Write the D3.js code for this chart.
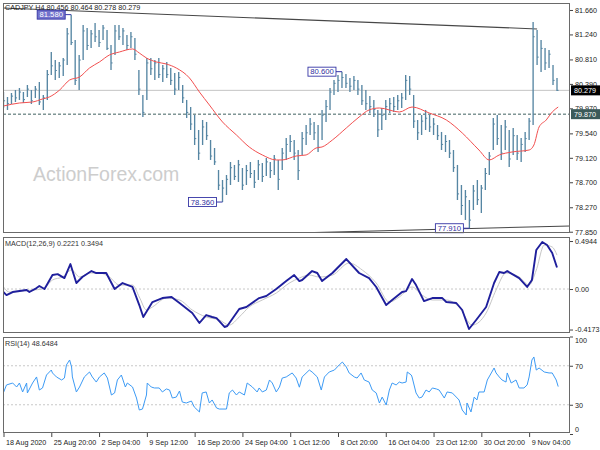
<!DOCTYPE html>
<html><head><meta charset="utf-8">
<script src="https://cdn.jsdelivr.net/npm/d3@7"></script>
<style>body{margin:0;background:#fff}svg{display:block}text{font-family:"Liberation Sans",Arial,sans-serif}</style>
</head><body><svg id="c" width="600" height="450"></svg>
<script>
// ---------- DATA ----------
const title = "CADJPY H4 80.456 80.464 80.278 80.279";
const macdTitle = "MACD(12,26,9) 0.2221 0.3494";
const rsiTitle = "RSI(14) 48.6484";
const highs = [80.251,80.165,80.234,80.285,80.320,80.251,80.371,80.285,80.354,80.423,
80.199,80.629,80.938,80.801,80.767,80.835,81.351,81.580,81.145,80.887,
81.402,81.351,81.316,81.437,81.316,81.402,81.316,81.059,81.402,81.402,
81.351,81.230,81.282,81.179,80.629,80.199,80.835,80.835,80.801,80.835,
80.715,80.767,80.663,80.578,80.595,80.371,80.114,79.993,79.856,79.598,
79.770,79.736,79.426,79.289,78.911,78.739,78.825,79.048,78.997,79.083,
78.945,78.997,79.048,78.911,79.083,79.031,79.117,79.048,79.169,79.083,
79.289,79.461,79.512,79.426,79.254,79.564,79.684,79.804,79.736,79.684,
79.942,80.114,80.320,80.457,80.543,80.600,80.560,80.492,80.526,80.457,
80.371,80.285,80.182,80.114,79.942,79.976,80.114,80.148,80.165,80.199,
80.234,80.543,80.526,80.199,79.770,79.856,79.942,79.856,79.804,79.684,
79.564,79.512,79.426,79.254,78.997,78.653,78.567,78.395,78.653,78.739,
78.653,78.945,79.220,79.804,79.856,79.684,79.770,79.598,79.633,79.512,
79.461,79.564,79.804,81.454,81.316,81.145,81.007,80.973,80.715,80.492];
const lows = [79.976,79.942,80.045,80.079,80.114,80.062,80.165,80.045,80.148,80.028,
79.942,80.114,80.543,80.457,80.492,80.526,80.715,81.059,80.371,80.285,
80.801,80.973,81.007,81.110,81.024,81.145,80.973,80.629,80.887,81.145,
81.059,80.973,81.007,80.801,80.199,79.821,80.114,80.543,80.457,80.492,
80.423,80.492,80.371,80.199,80.285,80.062,79.804,79.598,79.340,79.083,
79.340,79.426,79.083,78.997,78.567,78.360,78.481,78.653,78.739,78.705,
78.567,78.653,78.773,78.602,78.739,78.705,78.808,78.773,78.825,78.567,
78.911,79.083,79.220,79.083,78.739,79.169,79.340,79.512,79.426,79.220,
79.426,79.736,79.942,80.199,80.251,80.320,80.320,80.251,80.285,80.199,
80.028,79.942,79.890,79.821,79.478,79.598,79.770,79.890,79.907,79.942,
79.976,80.114,80.199,79.633,79.426,79.512,79.598,79.564,79.512,79.426,
79.254,79.220,79.117,78.877,78.395,78.137,78.052,77.910,78.223,78.309,
78.172,78.567,78.825,79.254,79.340,79.083,79.254,78.962,79.169,79.083,
79.048,79.220,79.426,79.684,80.715,80.595,80.629,80.663,80.371,80.268];
const closes = [80.10,80.05,80.18,80.15,80.25,80.12,80.30,80.10,80.30,80.08,
80.15,80.55,80.70,80.62,80.70,80.80,81.25,81.10,80.45,80.80,
81.30,81.05,81.25,81.20,81.10,81.35,81.00,80.75,81.30,81.20,
81.30,81.05,81.20,80.90,80.30,79.90,80.75,80.65,80.75,80.55,
80.65,80.55,80.45,80.30,80.50,80.15,79.90,79.70,79.45,79.20,
79.65,79.50,79.15,79.05,78.65,78.60,78.75,78.95,78.80,79.00,
78.65,78.90,78.85,78.70,79.00,78.80,79.05,78.90,79.10,78.75,
79.20,79.35,79.40,79.20,78.90,79.45,79.55,79.70,79.55,79.30,
79.85,80.00,80.25,80.40,80.45,80.50,80.40,80.35,80.45,80.30,
80.10,80.05,80.00,79.95,79.60,79.85,80.00,80.05,80.00,80.10,
80.15,80.45,80.30,79.75,79.55,79.75,79.80,79.65,79.70,79.50,
79.35,79.40,79.20,78.95,78.50,78.30,78.45,78.05,78.55,78.40,
78.60,78.85,79.15,79.70,79.45,79.20,79.65,79.10,79.50,79.20,
79.35,79.45,79.75,81.20,80.85,81.00,80.75,80.90,80.45,80.279];
// moving average [barIndex, price]
const maLine = [[0,80.010],[4,80.062],[7.3,80.079],[9.8,80.131],[11.5,80.165],[14.1,80.285],[16.6,80.457],[19.1,80.509],
[21.6,80.663],[24.1,80.767],[26.6,80.887],[29.1,80.938],[32.4,80.990],[34.1,80.921],[35.9,80.835],[38.4,80.767],
[40.9,80.732],[43.4,80.663],[46.7,80.492],[49.2,80.251],[51.7,80.028],[55,79.736],[58.5,79.512],[61.7,79.306],
[65,79.169],[68.5,79.083],[70,79.083],[73.5,79.151],[76,79.169],[78.5,79.289],[80,79.306],[82.6,79.426],
[86.1,79.633],[89.3,79.821],[91.8,79.942],[94.4,79.976],[99.4,79.907],[102.6,79.993],[106.9,79.890],[111.2,79.770],
[115.2,79.547],[119.4,79.254],[122,79.083],[124.5,79.169],[127.7,79.220],[132,79.254],[133.2,79.340],[134.5,79.650],
[136.3,79.770],[137.8,79.907],[139.3,79.993]];
const macdLine = [[-1,0.010],[0.75,-0.062],[2.3,-0.031],[5.8,-0.010],[6.5,-0.031],[8.3,0.010],[9,0.031],[10.3,0],
[12.3,0.144],[13.6,0.154],[15.3,0.113],[16.8,0.257],[18.3,0.062],[19.8,0.124],[22.1,0.185],[23.3,0.165],[25.8,0.165],
[27.9,0],[29.9,0.062],[32.4,0.021],[34.1,-0.165],[35.1,-0.288],[37.4,-0.134],[39.9,-0.093],[42.2,-0.082],[44.2,-0.144],
[47.4,-0.247],[49.2,-0.350],[50.9,-0.268],[52.4,-0.288],[53.5,-0.299],[55.5,-0.391],[56.2,-0.381],[59.2,-0.206],
[61,-0.185],[64.2,-0.093],[66,-0.072],[68.5,0],[71,0.082],[73,0.144],[74.3,0.082],[75,0.093],[77.5,0.185],[78.8,0.165],
[80,0.082],[82.6,0.165],[86.1,0.309],[89.3,0.165],[91.8,0.113],[93.6,0.021],[96.1,-0.165],[97.6,-0.113],[100.1,-0.031],
[101.1,-0.021],[102.6,0.103],[103.6,0.041],[105.6,-0.124],[107.7,-0.093],[110.2,-0.093],[111.2,-0.134],[113.7,-0.144],
[115.2,-0.216],[116.9,-0.412],[118.7,-0.319],[121.2,-0.185],[123.2,0.062],[124.5,0.175],[125.7,0.165],[126.5,0.185],
[129.5,0.113],[131.5,0.021],[132.7,0.093],[133.8,0.402],[135.3,0.484],[136.5,0.453],[137.8,0.371],[139,0.222]];
const signalLine = [[-1,0.093],[1.5,-0.031],[4,-0.021],[7.3,-0.010],[9.8,0],[12.3,0.093],[14.8,0.124],[17.1,0.196],
[19.1,0.124],[21.6,0.165],[24.1,0.165],[26.6,0.124],[29.1,0.041],[32.4,0.041],[34.1,-0.082],[35.9,-0.216],[37.4,-0.185],
[40.9,-0.093],[44.2,-0.113],[47.4,-0.216],[50.9,-0.288],[54.2,-0.319],[56.7,-0.371],[59.2,-0.288],[61.7,-0.185],
[65,-0.113],[68.5,-0.041],[71.8,0.062],[74.3,0.113],[76.8,0.144],[79.3,0.124],[82.6,0.144],[86.8,0.268],[90.1,0.196],
[93.6,0.062],[96.9,-0.134],[99.4,-0.082],[102.6,0.021],[105.1,-0.062],[107.7,-0.113],[111.2,-0.113],[114.4,-0.185],
[117.7,-0.371],[121.2,-0.247],[123.7,-0.010],[126.2,0.165],[129.5,0.124],[132,0.041],[133.8,0.196],[135.8,0.453],
[137.8,0.433],[139,0.349]];
const rsiLine = [[-1,45.1],[-0.25,40.0],[0.75,50.3],[2.3,52.3],[3.3,48.2],[4,52.3],[4.8,43.1],[5.8,52.3],[6,42.1],
[7.3,52.3],[8.3,58.5],[9,45.1],[9.8,47.2],[10.8,60.5],[12,65.6],[12.3,62.6],[13.3,58.5],[14.6,55.4],[15.3,57.4],
[15.8,70.8],[16.6,75.9],[17.1,68.7],[17.3,58.5],[18.3,43.1],[19.1,48.2],[20.3,58.5],[21.6,63.6],[22.3,58.5],[23.3,53.3],
[24.1,58.5],[25.3,62.6],[26.1,57.4],[27.1,40.0],[27.9,42.1],[28.6,55.4],[29.6,60.5],[30.6,48.2],[31.1,52.3],[32.4,48.2],
[33.4,36.9],[34.1,24.6],[34.9,25.6],[35.9,40.0],[36.1,52.3],[37.1,48.2],[37.9,47.2],[39.1,47.2],[39.9,43.1],[40.9,46.2],
[41.7,45.1],[42.4,36.9],[43.4,37.9],[44.2,44.1],[44.9,32.8],[45.9,31.8],[47.2,33.8],[47.9,27.7],[49.2,22.6],[49.9,42.1],
[50.9,43.1],[51.7,31.8],[52.4,34.9],[53.5,26.7],[54.2,25.6],[56,25.6],[56.7,42.1],[57.5,45.1],[58.5,40.0],[59.2,43.1],
[60.5,40.0],[61.2,52.3],[62.5,48.2],[63.7,43.1],[64.2,47.2],[65,43.1],[66,45.1],[66.8,55.4],[67.5,52.3],[68.5,43.1],
[69.3,48.2],[70,57.4],[71,58.5],[72.5,62.6],[73.5,57.4],[74.3,48.0],[75,58.5],[76.8,65.6],[77.5,63.6],[78.8,58.5],
[79.8,45.1],[80.6,58.5],[81.8,63.6],[83.1,65.6],[84.3,70.8],[85.1,73.8],[86.1,68.7],[86.8,62.6],[88.1,58.5],[88.8,57.4],
[89.8,62.6],[90.6,55.4],[91.8,53.3],[92.6,45.1],[93.6,42.1],[94.4,31.8],[95.1,37.9],[96.1,29.7],[96.9,45.1],[97.6,52.3],
[98.6,50.3],[99.4,53.3],[100.1,52.3],[101.1,53.3],[101.4,63.6],[102.4,60.5],[102.6,58.5],[103.6,42.1],[104.4,36.9],
[105.1,37.9],[106.1,45.1],[106.9,43.1],[107.7,47.2],[108.7,46.2],[109.4,45.1],[110.7,36.9],[111.4,43.1],[112.7,42.1],
[113.7,37.9],[114.4,34.9],[115.2,24.6],[116.2,19.5],[116.4,31.8],[117.4,22.6],[118.2,37.9],[118.9,34.9],[119.4,43.1],
[120.7,43.1],[121.5,55.4],[122.5,62.6],[123.2,67.7],[123.7,62.6],[124.5,58.5],[125.2,55.4],[126.2,53.3],[126.5,62.6],
[127.5,52.3],[128.7,55.4],[129.5,47.2],[130.7,47.2],[131.5,50.3],[132,58.5],[132.7,75.9],[133.2,79.0],[133.8,65.6],
[134.5,67.7],[135.8,63.6],[137,62.6],[137.8,62.6],[138.8,55.4],[139.3,48.65]];
const priceTicks = ["81.660","81.240","80.810","80.390","79.970","79.540","79.120","78.700","78.270","77.850"];
const macdTicks = ["0.4944","0.00","-0.4173"];
const rsiTicks = ["100","70","30","0"];
const timeTickIdx = [0,12,24,36,48,60,72,84,96,108,120,132];
const timeTickLabels = ["18 Aug 2020","25 Aug 20:00","2 Sep 04:00","9 Sep 12:00","16 Sep 20:00","24 Sep 04:00",
"1 Oct 12:00","8 Oct 20:00","16 Oct 04:00","23 Oct 12:00","30 Oct 20:00","9 Nov 04:00"];
const extremeLabels = [{idx:17,price:81.580,text:"81.580",sel:true},{idx:85,price:80.600,text:"80.600"},
{idx:55,price:78.360,text:"78.360"},{idx:117,price:77.910,text:"77.910"}];
const trendTop = [[-0.2,81.694],[134,81.334]];
const trendBottom = [[73.2,77.828],[142.3,77.949]];
const lastPrice = 80.279, levelPrice = 79.870;
const watermark = "ActionForex.com";

// ---------- DRAW ----------
const svg = d3.select("#c");
const L = 3, R = 570;
const P = {main:[3,233], macd:[237,333], rsi:[337,433]};
const x = d3.scaleLinear().domain([0,139]).range([3.5,557]);
const yP = d3.scaleLinear().domain([77.828,81.780]).range([233,3]);
const yM = d3.scaleLinear().domain([-0.453,0.536]).range([333,237]);
const yR = d3.scaleLinear().domain([0,100]).range([434,336.5]);
const FS = 7.2;

const defs = svg.append("defs");
Object.entries(P).forEach(([k,[t,b]])=>{
  defs.append("clipPath").attr("id","clip-"+k).append("rect").attr("x",L).attr("y",t).attr("width",R-L).attr("height",b-t);
});

// watermark
svg.append("text").attr("x",33).attr("y",181).attr("font-size",19.5).attr("fill","#cdcdcd").text(watermark);

// main panel
const gm = svg.append("g").attr("clip-path","url(#clip-main)");
gm.append("line").attr("x1",L).attr("x2",R).attr("y1",yP(lastPrice)).attr("y2",yP(lastPrice)).attr("stroke","#c4c4c4");
gm.append("line").attr("x1",L).attr("x2",R).attr("y1",yP(levelPrice)).attr("y2",yP(levelPrice))
  .attr("stroke","#3f6060").attr("stroke-dasharray","3,2");
[trendTop,trendBottom].forEach(t=>{
  gm.append("line").attr("x1",x(t[0][0])).attr("y1",yP(t[0][1])).attr("x2",x(t[1][0])).attr("y2",yP(t[1][1]))
   .attr("stroke","#474747").attr("stroke-width",1.1);
});
const bars = gm.append("g").attr("stroke","#5686a3");
highs.forEach((h,i)=>{
  bars.append("line").attr("x1",x(i)).attr("x2",x(i)).attr("y1",yP(h)).attr("y2",yP(lows[i])).attr("stroke-width",1.35);
  bars.append("line").attr("x1",x(i)).attr("x2",x(i)+1.6).attr("y1",yP(closes[i])).attr("y2",yP(closes[i])).attr("stroke-width",1);
});
gm.append("path").datum(maLine).attr("fill","none").attr("stroke","#f25050").attr("stroke-width",1)
  .attr("d",d3.line().x(d=>x(d[0])).y(d=>yP(d[1])).curve(d3.curveMonotoneX));

// extreme labels
extremeLabels.forEach(e=>{
  const yy = yP(e.price), bx = x(e.idx)-6, w = 28, h = 9;
  svg.append("line").attr("x1",bx).attr("x2",x(e.idx)).attr("y1",yy).attr("y2",yy).attr("stroke","#3535a5");
  svg.append("rect").attr("x",bx-w).attr("y",yy-h/2).attr("width",w).attr("height",h)
    .attr("fill",e.sel?"#7272cc":"#fff").attr("stroke","#3535a5").attr("stroke-width",0.9);
  svg.append("text").attr("x",bx-w/2).attr("y",yy+2.7).attr("text-anchor","middle").attr("font-size",FS+0.5)
    .attr("fill",e.sel?"#fff":"#3030a0").text(e.text);
});
svg.append("text").attr("x",5).attr("y",10).attr("font-size",FS).attr("fill","#222").text(title);

// MACD panel
const gd = svg.append("g").attr("clip-path","url(#clip-macd)");
gd.append("line").attr("x1",L).attr("x2",R).attr("y1",yM(0)).attr("y2",yM(0)).attr("stroke","#c8c8c8").attr("stroke-dasharray","2,2");
gd.append("path").datum(signalLine).attr("fill","none").attr("stroke","#c6c6c6").attr("stroke-width",1)
  .attr("d",d3.line().x(d=>x(d[0])).y(d=>yM(d[1])).curve(d3.curveMonotoneX));
gd.append("path").datum(macdLine).attr("fill","none").attr("stroke","#1f1f9c").attr("stroke-width",1.9)
  .attr("stroke-linejoin","round").attr("d",d3.line().x(d=>x(d[0])).y(d=>yM(d[1])));
svg.append("text").attr("x",5).attr("y",246).attr("font-size",FS).attr("fill","#333").text(macdTitle);

// RSI panel
const gr = svg.append("g").attr("clip-path","url(#clip-rsi)");
[70,30].forEach(v=>gr.append("line").attr("x1",L).attr("x2",R).attr("y1",yR(v)).attr("y2",yR(v))
  .attr("stroke","#c8c8c8").attr("stroke-dasharray","2,2"));
gr.append("path").datum(rsiLine).attr("fill","none").attr("stroke","#3d9bf5").attr("stroke-width",1)
  .attr("d",d3.line().x(d=>x(d[0])).y(d=>yR(d[1])));
svg.append("text").attr("x",5).attr("y",346).attr("font-size",FS).attr("fill","#333").text(rsiTitle);

// panel borders
Object.values(P).forEach(([t,b])=>{
  svg.append("rect").attr("x",L+0.5).attr("y",t+0.5).attr("width",R-L-1).attr("height",b-t-1)
    .attr("fill","none").attr("stroke","#6a6a6a");
});

// axes
function styleAxis(g){
  g.select(".domain").remove();
  g.selectAll("line").attr("stroke","#444");
  g.selectAll("text").attr("font-size",FS).attr("fill","#222").attr("font-family",'"Liberation Sans",Arial,sans-serif');
}
const ax1 = svg.append("g").attr("transform",`translate(${R},0)`)
  .call(d3.axisRight(yP).tickValues(priceTicks.map(Number)).tickSize(3).tickPadding(2).tickFormat((d,i)=>priceTicks[i]));
styleAxis(ax1);
const ax2 = svg.append("g").attr("transform",`translate(${R},0)`)
  .call(d3.axisRight(yM).tickValues(macdTicks.map(Number)).tickSize(3).tickPadding(2).tickFormat((d,i)=>macdTicks[i]));
styleAxis(ax2);
const ax3 = svg.append("g").attr("transform",`translate(${R},0)`)
  .call(d3.axisRight(yR).tickValues(rsiTicks.map(Number)).tickSize(3).tickPadding(2).tickFormat((d,i)=>rsiTicks[i]));
styleAxis(ax3);
ax3.selectAll(".tick").filter(d=>d===100).select("text").attr("dy","0.9em");
ax3.selectAll(".tick").filter(d=>d===0).select("text").attr("dy","-0.3em");
const ax4 = svg.append("g").attr("transform",`translate(0,${P.rsi[1]})`)
  .call(d3.axisBottom(x).tickValues(timeTickIdx).tickSize(4).tickPadding(3).tickFormat((d,i)=>timeTickLabels[i]));
styleAxis(ax4);
ax4.selectAll("text").attr("text-anchor","start").attr("dx",2);

// price boxes
[[lastPrice,"#000","80.279"],[levelPrice,"#3b5a5a","79.870"]].forEach(([v,c,t])=>{
  const yy = yP(v);
  svg.append("rect").attr("x",R+1).attr("y",yy-5).attr("width",29).attr("height",10).attr("fill",c);
  svg.append("text").attr("x",R+4).attr("y",yy+2.6).attr("font-size",FS).attr("fill","#fff").text(t);
});
</script></body></html>
